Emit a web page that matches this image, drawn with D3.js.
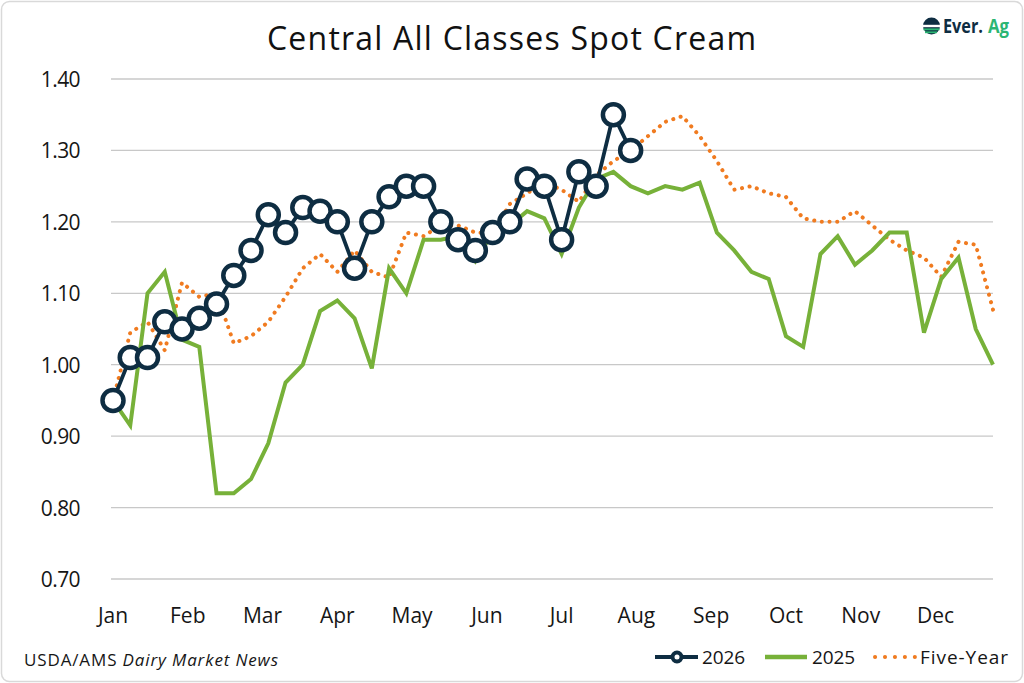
<!DOCTYPE html>
<html>
<head>
<meta charset="utf-8">
<script src="https://cdn.jsdelivr.net/npm/d3@7"></script>
<style>
  html, body { margin: 0; padding: 0; background: #fff; }
  svg { display: block; }
  text { font-family: "Open Sans", "Noto Sans", sans-serif; }
</style>
</head>
<body>
<svg id="chart" width="1024" height="683"></svg>
<script>
// ---- Data ----
const months = ["Jan","Feb","Mar","Apr","May","Jun","Jul","Aug","Sep","Oct","Nov","Dec"];
const yTicks = [0.70, 0.80, 0.90, 1.00, 1.10, 1.20, 1.30, 1.40];

const series2026 = [0.95, 1.01, 1.01, 1.06, 1.05, 1.065, 1.085, 1.125, 1.16, 1.21,
  1.185, 1.22, 1.215, 1.20, 1.135, 1.20, 1.235, 1.25, 1.25, 1.20,
  1.175, 1.16, 1.185, 1.20, 1.26, 1.25, 1.175, 1.27, 1.25, 1.35, 1.30];

const series2025 = [0.95, 0.915, 1.10, 1.13, 1.035, 1.025, 0.82, 0.82, 0.84, 0.89,
  0.975, 1.00, 1.075, 1.09, 1.065, 0.995, 1.135, 1.10, 1.175, 1.175,
  1.18, 1.145, 1.185, 1.195, 1.215, 1.205, 1.155, 1.22, 1.26, 1.27,
  1.25, 1.24, 1.25, 1.245, 1.255, 1.185, 1.16, 1.13, 1.12, 1.04,
  1.025, 1.155, 1.18, 1.14, 1.16, 1.185, 1.185, 1.045, 1.12, 1.15,
  1.05, 1.00];

const seriesFiveYear = [0.95, 1.045, 1.06, 1.02, 1.115, 1.095, 1.10, 1.03, 1.04, 1.06,
  1.095, 1.135, 1.155, 1.13, 1.16, 1.13, 1.122, 1.185, 1.18, 1.195,
  1.195, 1.185, 1.184, 1.225, 1.24, 1.255, 1.245, 1.228, 1.265, 1.285,
  1.30, 1.32, 1.34, 1.348, 1.32, 1.285, 1.245, 1.25, 1.24, 1.235,
  1.205, 1.20, 1.20, 1.215, 1.195, 1.175, 1.16, 1.15, 1.123, 1.172,
  1.168, 1.077];

const legendLabels = ["2026", "2025", "Five-Year"];

(function () {
// ---- Layout ----
const svg = d3.select("#chart");
const W = 1024, H = 683;
const plotTop = 79, plotBottom = 579;

const navy = "#0e2d42", green = "#77b139", orange = "#f07b20", textCol = "#161616";

// frame
svg.append("rect").attr("x", 1.5).attr("y", 1.5).attr("width", W - 3).attr("height", H - 3)
  .attr("rx", 8).attr("fill", "#fff").attr("stroke", "#d9d9d9").attr("stroke-width", 1.5);

const x = d3.scaleLinear().domain([0, 51]).range([113, 993]);
const y = d3.scaleLinear().domain([0.70, 1.40]).range([plotBottom, plotTop]);

// gridlines
svg.append("g").selectAll("line").data(yTicks).join("line")
  .attr("x1", 111).attr("x2", 993)
  .attr("y1", d => y(d)).attr("y2", d => y(d))
  .attr("stroke", "#c8c8c8").attr("stroke-width", 1.3);

// y axis labels
const yAxis = d3.axisLeft(y).tickValues(yTicks).tickFormat(d3.format(".2f")).tickSize(0).tickPadding(0);
const gy = svg.append("g").attr("transform", "translate(80,0)").call(yAxis);
gy.select(".domain").remove();
gy.selectAll("text").attr("font-size", 21).attr("fill", textCol)
  .attr("dy", "0.36em")
  .style("font-family", "'Open Sans', sans-serif").style("letter-spacing", "-0.6px");

// month labels
const xm = d3.scaleLinear().domain([0, 12]).range([x(0), x(52)]);
svg.append("g").selectAll("text").data(months).join("text")
  .attr("x", (d, i) => xm(i)).attr("y", 623)
  .attr("text-anchor", "middle").attr("font-size", 21).attr("fill", textCol)
  .text(d => d);

// title
svg.append("text").attr("x", 267).attr("y", 49.5)
  .attr("font-size", 32).attr("fill", "#111")
  .attr("textLength", 489).attr("lengthAdjust", "spacing")
  .text("Central All Classes Spot Cream");

// lines
const line = d3.line().x((d, i) => x(i)).y(d => y(d));

svg.append("path").datum(seriesFiveYear).attr("d", line)
  .attr("fill", "none").attr("stroke", orange).attr("stroke-width", 4)
  .attr("stroke-linecap", "round").attr("stroke-dasharray", "0.1 7.6");

svg.append("path").datum(series2025).attr("d", line)
  .attr("fill", "none").attr("stroke", green).attr("stroke-width", 4)
  .attr("stroke-linejoin", "miter");

svg.append("path").datum(series2026).attr("d", line)
  .attr("fill", "none").attr("stroke", navy).attr("stroke-width", 3.8);

svg.append("g").selectAll("circle").data(series2026).join("circle")
  .attr("cx", (d, i) => x(i)).attr("cy", d => y(d)).attr("r", 10.5)
  .attr("fill", "#fff").attr("stroke", navy).attr("stroke-width", 4.5);

// source
const src = svg.append("text").attr("x", 24).attr("y", 666).attr("font-size", 17).attr("fill", textCol)
  .attr("textLength", 254).attr("lengthAdjust", "spacing");
src.append("tspan").text("USDA/AMS ");
src.append("tspan").attr("font-style", "italic").text("Dairy Market News");

// legend
const ly = 657;
const lg = svg.append("g");
lg.append("line").attr("x1", 655).attr("x2", 698).attr("y1", ly).attr("y2", ly)
  .attr("stroke", navy).attr("stroke-width", 4);
lg.append("circle").attr("cx", 677).attr("cy", ly).attr("r", 4.5).attr("fill", "#fff")
  .attr("stroke", navy).attr("stroke-width", 4);
lg.append("line").attr("x1", 765).attr("x2", 807).attr("y1", ly).attr("y2", ly)
  .attr("stroke", green).attr("stroke-width", 4.5);
lg.append("line").attr("x1", 875).attr("x2", 916).attr("y1", ly).attr("y2", ly)
  .attr("stroke", orange).attr("stroke-width", 4).attr("stroke-linecap", "round")
  .attr("stroke-dasharray", "0.1 9.85");
const legendX = [702, 812, 920];
const legendW = [43, 43, 88];
lg.selectAll("text.lbl").data(legendLabels).join("text").attr("class", "lbl")
  .attr("x", (d, i) => legendX[i]).attr("y", ly + 6.8)
  .attr("font-size", 19).attr("fill", textCol)
  .attr("textLength", (d, i) => legendW[i]).attr("lengthAdjust", "spacing")
  .text(d => d);

// logo
const logo = svg.append("g").attr("transform", "translate(931.5,26)");
logo.append("circle").attr("r", 8.5).attr("fill", navy);
logo.append("rect").attr("x", -8.5).attr("y", -1.2).attr("width", 17).attr("height", 2.4).attr("fill", "#fff");
logo.append("rect").attr("x", -8).attr("y", 2.4).attr("width", 16).attr("height", 1.9).attr("fill", "#2bb673");
logo.append("rect").attr("x", -6.5).attr("y", 5.4).attr("width", 12).attr("height", 1.8).attr("fill", "#2bb673");
svg.append("text").attr("x", 943).attr("y", 33).attr("font-size", 19)
  .attr("font-weight", 700).attr("fill", navy)
  .attr("textLength", 40).attr("lengthAdjust", "spacingAndGlyphs").text("Ever.");
svg.append("text").attr("x", 988).attr("y", 33).attr("font-size", 19)
  .attr("font-weight", 700).attr("fill", "#2bb673")
  .attr("textLength", 21).attr("lengthAdjust", "spacingAndGlyphs").text("Ag");
})();
</script>
</body>
</html>
